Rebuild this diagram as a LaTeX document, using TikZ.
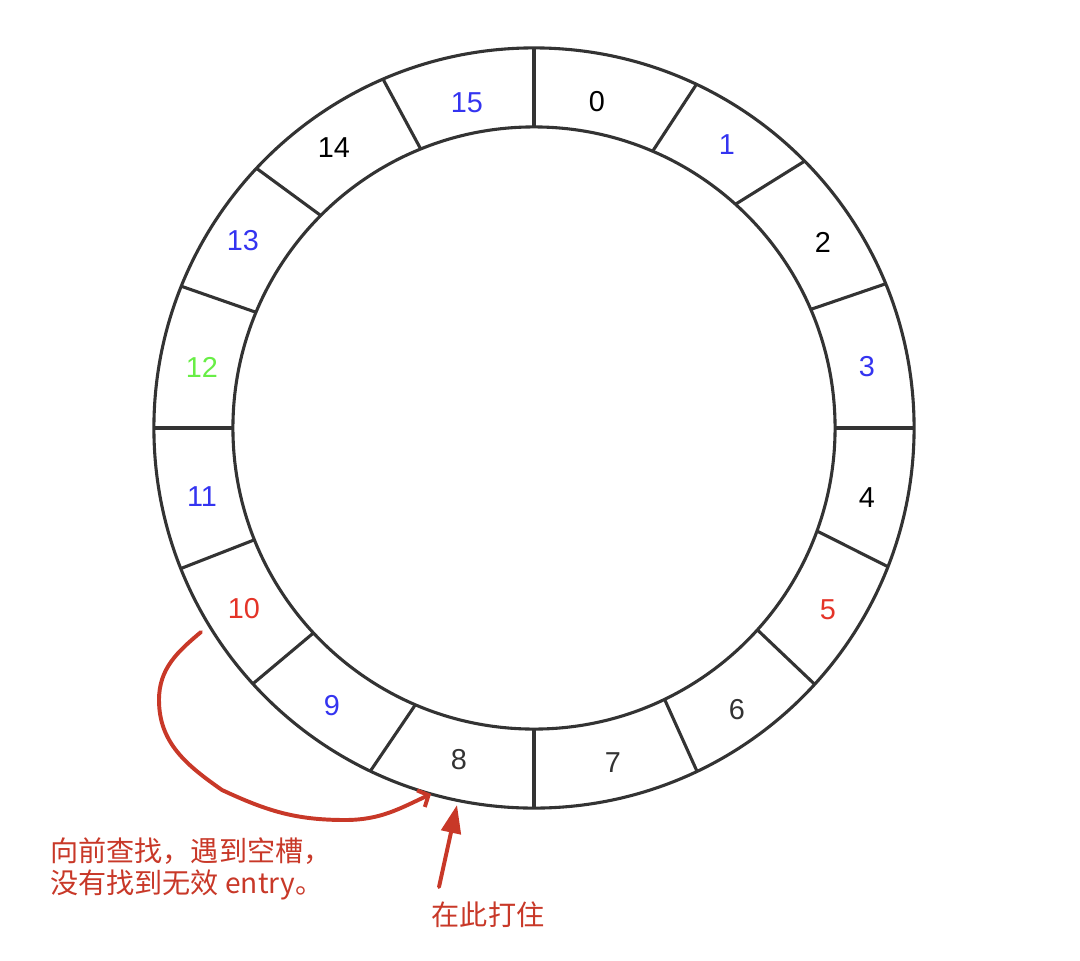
\documentclass[tikz,border=0pt]{standalone}
\usepackage{fontspec}
\setmainfont{Liberation Sans}
\newfontfamily\cjk{Noto Sans CJK SC}
\usetikzlibrary{arrows.meta,calc}
\definecolor{ringgray}{RGB}{51,51,51}
\definecolor{lblue}{RGB}{52,52,240}
\definecolor{lred}{RGB}{228,52,40}
\definecolor{lgreen}{RGB}{104,238,70}
\definecolor{ared}{RGB}{200,56,40}
\tikzset{
  ringline/.style={draw=ringgray, line width=2.2pt},
  slotlabel/.style={font=\fontsize{20.5}{24}\selectfont, inner sep=0pt},
  redarrow/.style={draw=ared, line width=2.8pt, line cap=round},
  note/.style={text=ared, font=\cjk\fontsize{20}{22.8}\selectfont, inner sep=0pt}
}
\begin{document}
\begin{tikzpicture}[x=0.025cm, y=0.025cm]
\useasboundingbox (0,-961) rectangle (1080,0);
\coordinate (C) at (534,-428);
% ring
\draw[ringline] (C) circle[radius=9.5cm];
\draw[ringline] (C) circle[radius=7.525cm];
\foreach \ai/\ao in {90/90, 66.8/64.7, 48.0/44.6, 23.2/22.3, 0/0, -20.0/-21.4, -42.1/-42.4, -64.3/-64.6,
  -90/-90, -113.2/-115.5, -137.1/-137.7, -158.2/-158.3, 180/180, 157.4/158.1, 135.1/136.9, 112.1/113.4}{
  \draw[ringline] ($(C)+(\ai:7.525cm)$) -- ($(C)+(\ao:9.5cm)$);
}
% labels
\foreach \k/\c/\lx/\ly in {0/black/597/102, 1/lblue/727/145, 2/black/823/242, 3/lblue/867/367,
  4/black/867/498, 5/lred/828/610, 6/ringgray/737/710, 7/ringgray/613/763,
  8/ringgray/459/760, 9/lblue/332/706, 10/lred/244/609, 11/lblue/202/497,
  12/lgreen/202/367, 13/lblue/243/241, 14/black/334/148, 15/lblue/467/103}{
  \node[slotlabel, text=\c] (l\k) at (\lx,-\ly) {\k};
}
% arrows
\coordinate (cs) at (201,-632);
\coordinate (ce) at (431,-794);
\draw[redarrow, -{Straight Barb[length=6pt,width=13pt]}] (cs) to[out=-140,in=90] (159,-700) to[out=-90,in=145] (222,-790) to[out=-25,in=180] (345,-820) to[out=0,in=-155] (ce);
\coordinate (ss) at (439,-887);
\coordinate (se) at (457,-805);
\draw[redarrow, -{Triangle[length=20pt,width=14pt]}] (ss) -- (se);
% notes
\node[note, anchor=west, align=left] (n1) at (50,-869) {向前查找，遇到空槽，\\没有找到无效 entry。};
\node[note] (n2) at (488,-915) {在此打住};
\end{tikzpicture}
\end{document}
